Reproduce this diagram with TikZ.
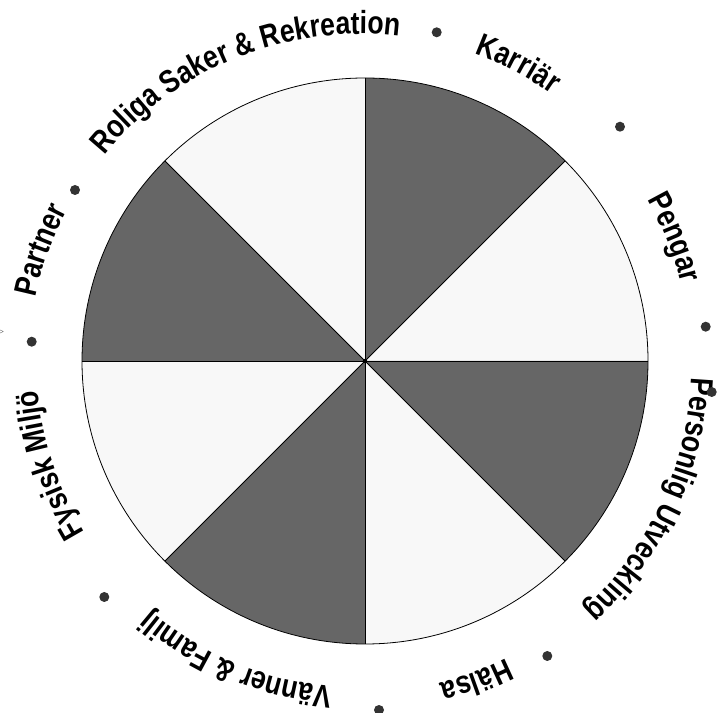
\documentclass[tikz,border=0pt]{standalone}
\usepackage{fontspec}
\newfontfamily\lblfont{Liberation Sans}[FakeStretch=0.83]
\usetikzlibrary{decorations.text,calc}
\definecolor{darkseg}{HTML}{666666}
\definecolor{lightseg}{HTML}{F8F8F8}
\definecolor{dotgray}{HTML}{333333}
\newcommand\lblfmt{\fontsize{32pt}{38pt}\lblfont\bfseries}
\newcommand\arclabel[3]{%
  \path[shift={(T)},decorate,decoration={text along path,text align=center,text={|\lblfmt|#3}}]
    ({#1+45}:#2pt) arc[start angle={#1+45}, end angle={#1-45}, radius=#2pt];}
\begin{document}
\begin{tikzpicture}[x=1pt,y=1pt,
  darkfill/.style={fill=darkseg},
  lightfill/.style={fill=lightseg},
  sepline/.style={draw=black, line width=0.8pt},
  sepdot/.style={circle, fill=dotgray, inner sep=0pt, minimum size=10pt},
  ]
\useasboundingbox (0,0) rectangle (728,712);
\coordinate (C) at (365,351);
\coordinate (T) at (360,348);
% sectors
\foreach \a in {0,90,180,270} {
  \fill[lightfill] (C) -- ++(\a:283pt) arc[start angle=\a, end angle=\a+45, radius=283pt] -- cycle;
}
\foreach \a in {45,135,225,315} {
  \fill[darkfill] (C) -- ++(\a:283pt) arc[start angle=\a, end angle=\a+45, radius=283pt] -- cycle;
}
\foreach \a in {0,45,90,135} {
  \draw[sepline] ($(C)+(\a:283pt)$) -- ($(C)+(\a+180:283pt)$);
}
\draw[sepline] (C) circle[radius=283pt];
\fill[black] (C) circle[radius=2.2pt];
% labels
\arclabel{112}{330}{Roliga Saker {\&} Rekreation}
\arclabel{62.2}{331}{Karriär}
\arclabel{21.9}{331}{Pengar}
\arclabel{-25}{332}{Personlig Utveckling}
\arclabel{-69.8}{329}{Hälsa}
\arclabel{-112.7}{324}{Vänner {\&} Familj}
\arclabel{198}{323}{Fysisk Miljö}
\arclabel{160.3}{331}{Partner}
% dots
\node[sepdot] (d1) at (436.7,679.7) {};
\node[sepdot] (d2) at (620,585.3) {};
\node[sepdot] (d3) at (705.7,385.3) {};
\node[sepdot] (d4) at (711.7,320) {};
\node[sepdot] (d5) at (547.3,56) {};
\node[sepdot] (d6) at (379,2) {};
\node[sepdot] (d7) at (104.3,115) {};
\node[sepdot] (d8) at (31.7,370.3) {};
\node[sepdot] (d9) at (75,522) {};
\node[font=\fontsize{6pt}{7pt}\selectfont, inner sep=0pt] (gt) at (1.5,380) {>};
\end{tikzpicture}
\end{document}
